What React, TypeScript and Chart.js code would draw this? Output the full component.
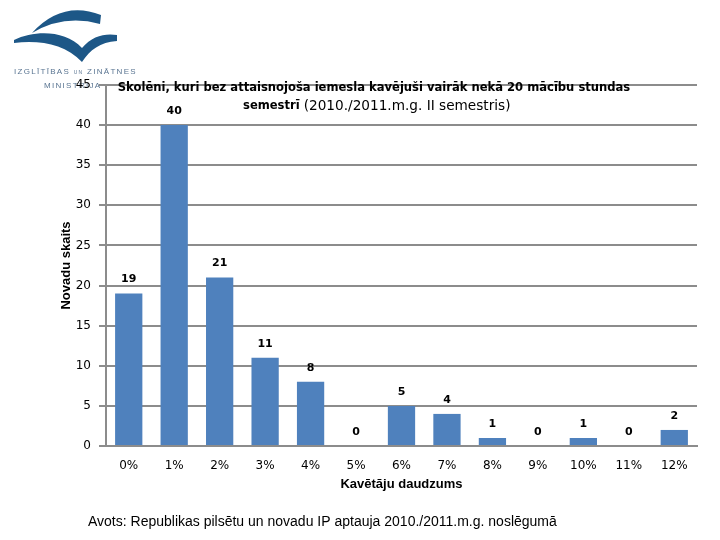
import React, { useEffect, useRef } from "react";
import { Chart, registerables } from "chart.js";

Chart.register(...registerables);

const categories = ["0%", "1%", "2%", "3%", "4%", "5%", "6%", "7%", "8%", "9%", "10%", "11%", "12%"];
const values = [19, 40, 21, 11, 8, 0, 5, 4, 1, 0, 1, 0, 2];
const titleLine1 = "Skolēni, kuri bez attaisnojoša iemesla kavējuši vairāk nekā 20 mācību stundas";
const titleLine2Bold = "semestrī";
const titleLine2Normal = "(2010./2011.m.g. II semestris)";
const yTitle = "Novadu skaits";
const xTitle = "Kavētāju daudzums";
const sourceText = "Avots: Republikas pilsētu un novadu IP aptauja 2010./2011.m.g. noslēgumā";
const logoLine1a = "IZGLĪTĪBAS ";
const logoLine1b = "UN";
const logoLine1c = " ZINĀTNES";
const logoLine2 = "MINISTRIJA";

const logoPlugin = {
  id: "logo",
  beforeDraw(chart: any) {
    const ctx = chart.ctx;
    ctx.save();
    ctx.fillStyle = "#1d5787";
    // upper arc
    ctx.beginPath();
    ctx.moveTo(32, 33);
    ctx.quadraticCurveTo(62, 0, 101, 15);
    ctx.lineTo(100, 24);
    ctx.quadraticCurveTo(64, 14, 32, 33);
    ctx.closePath();
    ctx.fill();
    // lower wing
    ctx.beginPath();
    ctx.moveTo(14, 40);
    ctx.bezierCurveTo(35, 30, 65, 30, 82, 48);
    ctx.bezierCurveTo(92, 36, 105, 33, 117, 35);
    ctx.lineTo(117, 41);
    ctx.bezierCurveTo(100, 42, 90, 50, 82, 62);
    ctx.bezierCurveTo(65, 44, 40, 40, 14, 43);
    ctx.closePath();
    ctx.fill();
    ctx.fillStyle = "#5a7592";
    ctx.textBaseline = "middle";
    ctx.textAlign = "left";
    (ctx as any).letterSpacing = "1.3px";
    ctx.font = "8px 'Liberation Sans'";
    let x = 14;
    ctx.fillText(logoLine1a, x, 72);
    x += ctx.measureText(logoLine1a).width;
    ctx.font = "5px 'Liberation Sans'";
    ctx.fillText(logoLine1b, x, 73);
    x += ctx.measureText(logoLine1b).width;
    ctx.font = "8px 'Liberation Sans'";
    ctx.fillText(logoLine1c, x, 72);
    ctx.fillText(logoLine2, 44, 86);
    (ctx as any).letterSpacing = "0px";
    ctx.restore();
  },
};

const textPlugin = {
  id: "texts",
  afterDraw(chart: any) {
    const ctx = chart.ctx;
    ctx.save();
    ctx.fillStyle = "#000";
    ctx.textBaseline = "middle";
    // title line 1, sized to span the same width as the reference
    ctx.textAlign = "center";
    ctx.font = "bold 12px 'DejaVu Sans'";
    const base1 = ctx.measureText(titleLine1).width;
    const size1 = Math.min(13, (12 * 513) / base1);
    ctx.font = `bold ${size1}px 'DejaVu Sans'`;
    ctx.fillText(titleLine1, 374, 88);
    // title line 2: bold word + normal part
    ctx.font = "12px 'DejaVu Sans'";
    const base2 = ctx.measureText(titleLine2Normal).width;
    const size2 = Math.min(14, (12 * 207) / base2);
    ctx.textAlign = "left";
    ctx.font = `bold ${size1}px 'DejaVu Sans'`;
    const w1 = ctx.measureText(titleLine2Bold).width;
    ctx.fillText(titleLine2Bold, 243, 106);
    ctx.font = `${size2}px 'DejaVu Sans'`;
    ctx.fillText(titleLine2Normal, Math.max(300, 243 + w1 + 4), 106);
    // data labels
    const meta = chart.getDatasetMeta(0);
    ctx.textAlign = "center";
    ctx.font = "bold 11px 'DejaVu Sans'";
    meta.data.forEach((bar: any, i: number) => {
      ctx.fillText(String(values[i]), bar.x, bar.y - 14);
    });
    // source
    ctx.textAlign = "left";
    ctx.font = "14px 'Liberation Sans'";
    ctx.fillText(sourceText, 88, 522);
    ctx.restore();
  },
};

export default function App() {
  const ref = useRef<HTMLCanvasElement>(null);
  useEffect(() => {
    const chart = new Chart(ref.current!, {
      type: "bar",
      data: {
        labels: categories,
        datasets: [
          {
            data: values,
            backgroundColor: "#4f81bd",
            barPercentage: 0.6,
            categoryPercentage: 1,
          },
        ],
      },
      options: {
        responsive: false,
        animation: false,
        layout: { padding: { left: 55, right: 23, top: 85, bottom: 44 } },
        plugins: { legend: { display: false }, tooltip: { enabled: false }, title: { display: false } },
        scales: {
          x: {
            grid: { display: false, drawTicks: false },
            border: { display: true, color: "#8c8c8c", width: 2 },
            ticks: { color: "#000", font: { family: "'DejaVu Sans'", size: 12 }, padding: 13, maxRotation: 0, autoSkip: false },
            title: { display: true, text: xTitle, color: "#000", font: { family: "'Liberation Sans'", size: 13, weight: "bold" }, padding: { top: 4, bottom: 4 } },
            afterFit(scale: any) { scale.height = 50; },
          },
          y: {
            min: 0,
            max: 45,
            ticks: { stepSize: 5, color: "#000", font: { family: "'DejaVu Sans'", size: 12 }, padding: 8 },
            grid: { color: "#8c8c8c", lineWidth: 2, tickLength: 7 },
            border: { display: true, color: "#8c8c8c", width: 2 },
            title: { display: true, text: yTitle, color: "#000", font: { family: "'Liberation Sans'", size: 13, weight: "bold" }, padding: { top: 4, bottom: 4 } },
            afterFit(scale: any) { scale.width = 51; },
          },
        },
      },
      plugins: [logoPlugin, textPlugin],
    } as any);
    return () => chart.destroy();
  }, []);
  return (
    <div style={{ position: "fixed", left: 0, top: 0, width: 720, height: 540, background: "#fff" }}>
      <canvas ref={ref} width={720} height={540} />
    </div>
  );
}
